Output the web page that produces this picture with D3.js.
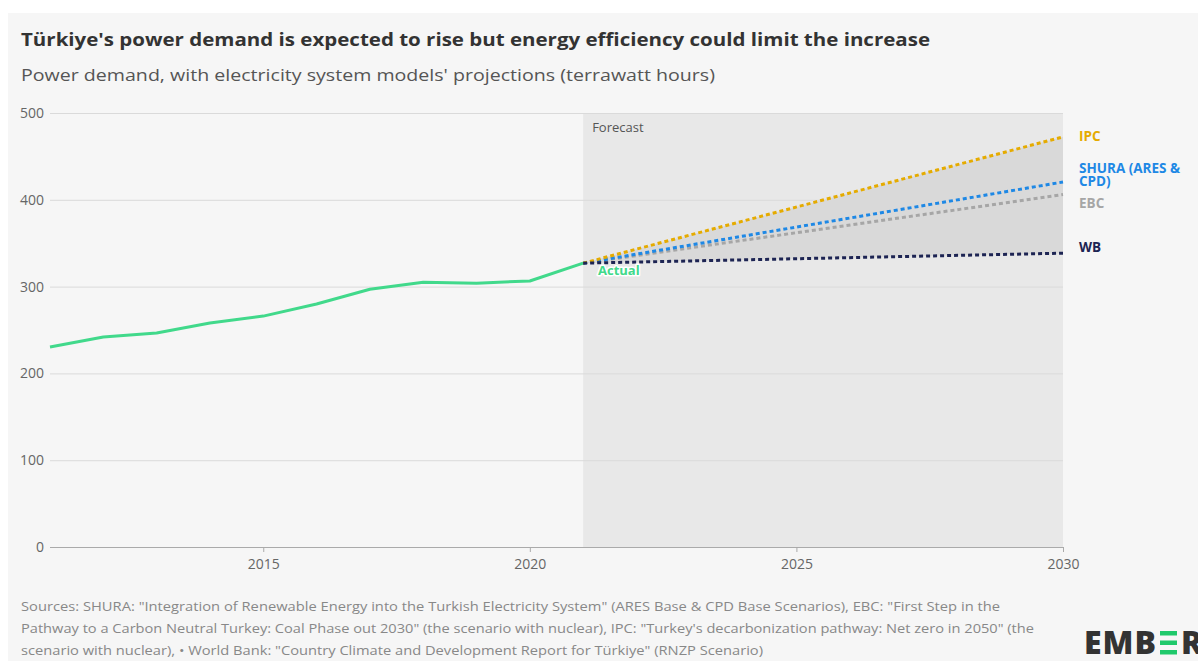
<!DOCTYPE html>
<html>
<head>
<meta charset="utf-8">
<script src="https://cdn.jsdelivr.net/npm/d3@7"></script>
<style>
  html, body { margin: 0; padding: 0; background: #ffffff; }
  svg { display: block; }
  text { font-family: "Open Sans", Lato, sans-serif; }
</style>
</head>
<body>
<svg id="chart" width="1198" height="661"></svg>
<script>
// ---- Data ----
const actualYears = [2011, 2012, 2013, 2014, 2015, 2016, 2017, 2018, 2019, 2020, 2021];
const actualValues = [230.5, 242, 246.5, 258, 266, 280, 297, 305, 304, 306.5, 327];
const projYears = [2021, 2030];
const ipcValues = [327, 472.5];
const shuraValues = [327, 420.5];
const ebcValues = [327, 406];
const wbValues = [327, 338.5];
const xTicks = [2015, 2020, 2025, 2030];
const yTicks = [0, 100, 200, 300, 400, 500];
const forecastRange = [2021, 2030];
const seriesNames = ["IPC", "SHURA", "EBC", "WB"];
const seriesLabels = [["IPC"], ["SHURA (ARES &", "CPD)"], ["EBC"], ["WB"]];

// ---- Style (not data) ----
const seriesColors = { IPC: "#e5ab00", SHURA: "#1e88e5", EBC: "#a6a6a6", WB: "#1d2453" };
const labelDy = { IPC: 4.3, SHURA: -9.5, EBC: 13.2, WB: -0.9 };

const seriesValues = { IPC: ipcValues, SHURA: shuraValues, EBC: ebcValues, WB: wbValues };

const svg = d3.select("#chart");
const W = 1198, H = 661;

// card background
svg.append("rect").attr("x", 8).attr("y", 13).attr("width", W - 8).attr("height", H - 13).attr("fill", "#f6f6f6");

const x = d3.scaleLinear().domain([2011, 2030]).range([50, 1063]);
const y = d3.scaleLinear().domain([0, 500]).range([547, 113]);

// Title & subtitle
svg.append("text").attr("x", 21).attr("y", 46)
  .attr("font-size", 17.5).attr("font-weight", 700).attr("fill", "#333")
  .attr("textLength", 909).attr("lengthAdjust", "spacingAndGlyphs")
  .text("Türkiye's power demand is expected to rise but energy efficiency could limit the increase");
svg.append("text").attr("x", 21).attr("y", 81)
  .attr("font-size", 17).attr("fill", "#555")
  .attr("textLength", 694).attr("lengthAdjust", "spacingAndGlyphs")
  .text("Power demand, with electricity system models' projections (terrawatt hours)");

// forecast shading
svg.append("rect")
  .attr("x", x(forecastRange[0])).attr("y", y(500))
  .attr("width", x(forecastRange[1]) - x(forecastRange[0]))
  .attr("height", y(0) - y(500))
  .attr("fill", "#e8e8e8");

// gridlines + y axis
const yAxis = d3.axisLeft(y).tickValues(yTicks).tickSize(-(1063 - 50)).tickPadding(6).tickFormat(d3.format("d"));
const gy = svg.append("g").attr("transform", "translate(50,0)").call(yAxis);
gy.select(".domain").remove();
gy.selectAll(".tick line").attr("stroke", "#dadada").attr("stroke-width", 1);
gy.selectAll(".tick text").attr("font-size", 14).attr("fill", "#666").attr("font-family", "'Open Sans', sans-serif");
gy.selectAll(".tick").filter(d => d === 0).select("line").attr("stroke", "#aaa");

// x axis
const xAxis = d3.axisBottom(x).tickValues(xTicks).tickSize(5).tickPadding(7).tickFormat(d3.format("d"));
const gx = svg.append("g").attr("transform", `translate(0,${y(0)})`).call(xAxis);
gx.select(".domain").remove();
gx.selectAll(".tick line").attr("stroke", "#aaa");
gx.selectAll(".tick text").attr("font-size", 14).attr("fill", "#666").attr("font-family", "'Open Sans', sans-serif");

// Forecast label
svg.append("text").attr("x", x(forecastRange[0]) + 9).attr("y", 132)
  .attr("font-size", 13).attr("fill", "#555").text("Forecast");

// band between max and min projection
const band = d3.area()
  .x((d, i) => x(projYears[i]))
  .y0((d, i) => y(wbValues[i]))
  .y1((d, i) => y(ipcValues[i]));
svg.append("path").datum(projYears).attr("d", band).attr("fill", "#d9d9d9");

// actual line
const line = d3.line().x(d => x(d[0])).y(d => y(d[1]));
svg.append("path")
  .datum(actualYears.map((yr, i) => [yr, actualValues[i]]))
  .attr("d", line).attr("fill", "none").attr("stroke", "#41d98b").attr("stroke-width", 3)
  .attr("stroke-linejoin", "round");

// projection lines
["EBC", "SHURA", "IPC", "WB"].forEach(n => {
  svg.append("path")
    .datum(projYears.map((yr, i) => [yr, seriesValues[n][i]]))
    .attr("d", line).attr("fill", "none").attr("stroke", seriesColors[n])
    .attr("stroke-width", 3).attr("stroke-dasharray", "4,3");
});

// series labels
seriesNames.forEach((n, si) => {
  const yEnd = y(seriesValues[n][1]);
  const t = svg.append("text")
    .attr("font-size", 13.5).attr("font-weight", 700).attr("fill", seriesColors[n]);
  seriesLabels[si].forEach((l, i) => {
    t.append("tspan").attr("x", 1079).attr("y", yEnd + labelDy[n] + i * 13.5).text(l);
  });
});

// Actual label
svg.append("text").attr("x", 598).attr("y", 275)
  .attr("font-size", 13).attr("font-weight", 700).attr("fill", "#41d98b")
  .attr("stroke", "#ffffff").attr("stroke-width", 3).attr("paint-order", "stroke")
  .attr("stroke-linejoin", "round")
  .text("Actual");

// footer
const footer = [
  "Sources: SHURA: \"Integration of Renewable Energy into the Turkish Electricity System\" (ARES Base & CPD Base Scenarios), EBC: \"First Step in the",
  "Pathway to a Carbon Neutral Turkey: Coal Phase out 2030\" (the scenario with nuclear), IPC: \"Turkey's decarbonization pathway: Net zero in 2050\" (the",
  "scenario with nuclear), • World Bank: \"Country Climate and Development Report for Türkiye\" (RNZP Scenario)"
];
const footerWidths = [979, 1013, 742];
footer.forEach((l, i) => {
  svg.append("text").attr("x", 21).attr("y", 611 + i * 22)
    .attr("font-size", 13).attr("fill", "#888")
    .attr("textLength", footerWidths[i]).attr("lengthAdjust", "spacingAndGlyphs")
    .text(l);
});

// EMBER logo
const logo = svg.append("g");
const lf = 32;
logo.append("text").attr("x", 1084).attr("y", 654)
  .attr("font-family", "Roboto, sans-serif").attr("font-size", lf).attr("font-weight", 900)
  .attr("fill", "#333").attr("letter-spacing", 1).text("EMB");
[0, 1, 2].forEach(i => {
  logo.append("rect").attr("x", 1160).attr("y", 631 + i * 9.5).attr("width", 17).attr("height", 4.5).attr("fill", "#20c96b");
});
logo.append("text").attr("x", 1181).attr("y", 654)
  .attr("font-family", "Roboto, sans-serif").attr("font-size", lf).attr("font-weight", 900)
  .attr("fill", "#333").text("R");
</script>
</body>
</html>
